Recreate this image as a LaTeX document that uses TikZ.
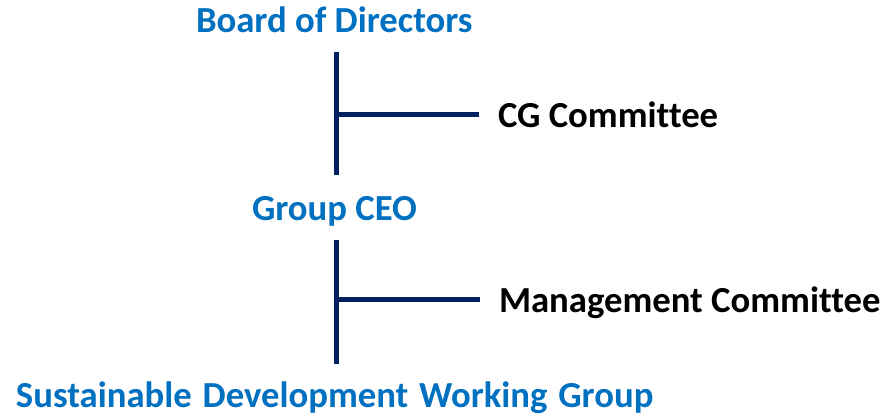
\documentclass[tikz,border=0pt]{standalone}
\usepackage{fontspec}
\setmainfont[Ligatures=NoCommon]{Carlito}
\definecolor{offblue}{HTML}{0070C0}
\definecolor{navy}{HTML}{002060}
\begin{document}
\begin{tikzpicture}[x=1pt,y=-1pt,
  lbl/.style={inner sep=0pt, outer sep=0pt, anchor=base west, font=\fontsize{36.7}{40}\selectfont\bfseries},
  bluelbl/.style={lbl, text=offblue},
  blacklbl/.style={lbl, text=black},
  conn/.style={draw=navy, line width=5pt}]
\useasboundingbox (0,0) rectangle (889,417);
\node[bluelbl] (board) at (196,33) {Board of Directors};
\node[blacklbl] (cg) at (498,128) {CG Committee};
\node[bluelbl] (ceo) at (252,220) {Group CEO};
\node[blacklbl] (mc) at (499,312) {Management Committee};
\node[bluelbl] (sdwg) at (16,407) {\spaceskip=10.8pt Sustainable Development Working Group};
\coordinate (t1top) at (336,52);
\coordinate (t1bot) at (336,175);
\coordinate (j1) at (336,115);
\coordinate (e1) at (479,115);
\coordinate (t2top) at (336,240);
\coordinate (t2bot) at (336,364);
\coordinate (j2) at (336,299);
\coordinate (e2) at (480,299);
\draw[conn] (t1top) -- (t1bot);
\draw[conn] (j1) -- (e1);
\draw[conn] (t2top) -- (t2bot);
\draw[conn] (j2) -- (e2);
\end{tikzpicture}
\end{document}
